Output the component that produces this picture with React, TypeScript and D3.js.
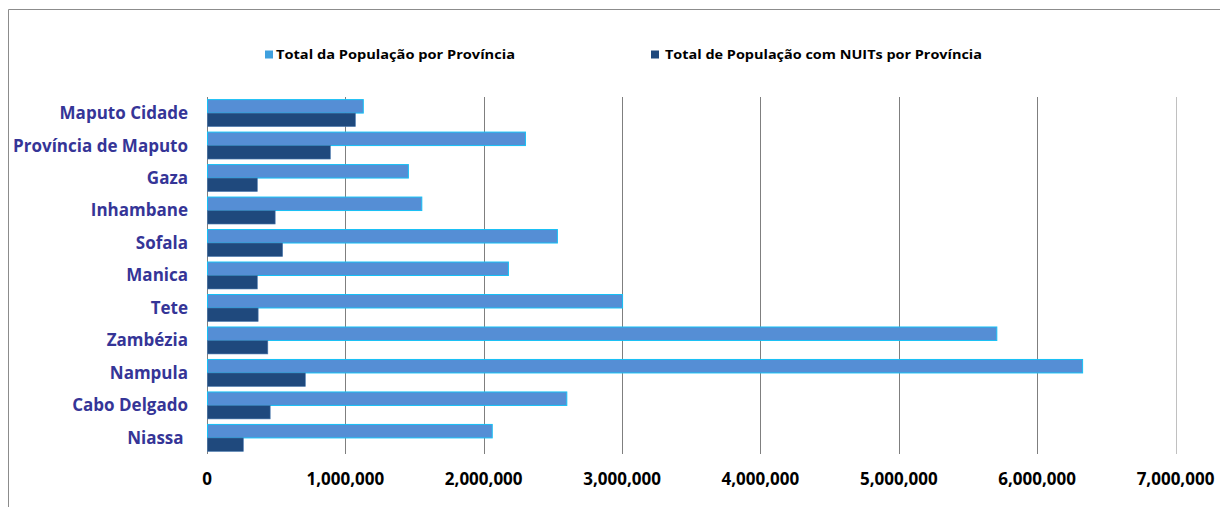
import React from "react";
import * as d3 from "d3";

const provinces = [
  "Maputo Cidade",
  "Província de Maputo",
  "Gaza",
  "Inhambane",
  "Sofala",
  "Manica",
  "Tete",
  "Zambézia",
  "Nampula",
  "Cabo Delgado",
  "Niassa ",
];
const totalPop = [1126000, 2298000, 1452000, 1549000, 2529000, 2175000, 3000000, 5705000, 6325000, 2597000, 2058000];
const nuitPop = [1069000, 888000, 360000, 489000, 543000, 360000, 366000, 436000, 707000, 453000, 259000];
const xTicks = [0, 1000000, 2000000, 3000000, 4000000, 5000000, 6000000, 7000000];
const seriesNames = ["Total da População por Província", "Total de População com NUITs por Província"];

const W = 1220;
const H = 507;
const M = { left: 207, right: 1175.5, top: 97, bottom: 454 };

export default function App() {
  const x = d3.scaleLinear().domain([0, 7000000]).range([M.left, M.right]);
  const y = d3.scaleBand().domain(provinces).range([M.top, M.bottom]).paddingInner(0.17).paddingOuter(0.08);
  const sub = d3.scaleBand().domain(["a", "b"]).range([0, y.bandwidth()]);
  const fmt = d3.format(",");
  const labelFont = "'Open Sans', Lato, sans-serif";
  return (
    <svg width={W} height={H} style={{ position: "absolute", left: 0, top: 0 }}>
      <rect x={0} y={0} width={W} height={H} fill="#fff" />
      <path d={`M8.5,${H} V9.5 H${W}`} fill="none" stroke="#8c8c8c" strokeWidth={1} />
      {/* legend */}
      <g fontFamily={labelFont} fontWeight={700} fontSize={12} fill="#000">
        <rect x={265} y={50.5} width={8} height={8} fill="#3FA0DE" />
        <text x={276} y={58.5} textLength={239} lengthAdjust="spacingAndGlyphs">{seriesNames[0]}</text>
        <rect x={651} y={50.5} width={8} height={8} fill="#1F497D" />
        <text x={665} y={58.5} textLength={317} lengthAdjust="spacingAndGlyphs">{seriesNames[1]}</text>
      </g>
      {/* gridlines */}
      {xTicks.map((t, i) => (
        <line
          key={t}
          x1={Math.round(x(t)) + 0.5}
          x2={Math.round(x(t)) + 0.5}
          y1={M.top}
          y2={M.bottom}
          stroke={i === xTicks.length - 1 ? "#c0c0c0" : "#7f7f7f"}
          strokeWidth={1}
        />
      ))}
      {/* bars */}
      {provinces.map((p, i) => {
        const y0 = y(p)!;
        return (
          <g key={p}>
            <rect
              x={x(0) + 0.5}
              y={y0 + sub("a")!}
              width={x(totalPop[i]) - x(0)}
              height={sub.bandwidth()}
              fill="#558ED5"
              stroke="#17C0F5"
              strokeWidth={1}
            />
            <rect
              x={x(0) + 0.5}
              y={y0 + sub("b")!}
              width={x(nuitPop[i]) - x(0)}
              height={sub.bandwidth()}
              fill="#1F497D"
              stroke="#4a7ab0"
              strokeWidth={0.6}
            />
          </g>
        );
      })}
      {/* category labels */}
      <g fontFamily={labelFont} fontWeight={700} fontSize={17} fill="#353597" textAnchor="end">
        {provinces.map((p) => (
          <text key={p} x={188} y={y(p)! + y.bandwidth() / 2} dy="0.35em" style={{ whiteSpace: "pre" }}>
            {p}
          </text>
        ))}
      </g>
      {/* x tick labels */}
      <g fontFamily={labelFont} fontWeight={700} fontSize={17} fill="#000" textAnchor="middle">
        {xTicks.map((t) => (
          <text key={t} x={x(t)} y={485}>
            {fmt(t)}
          </text>
        ))}
      </g>
    </svg>
  );
}
